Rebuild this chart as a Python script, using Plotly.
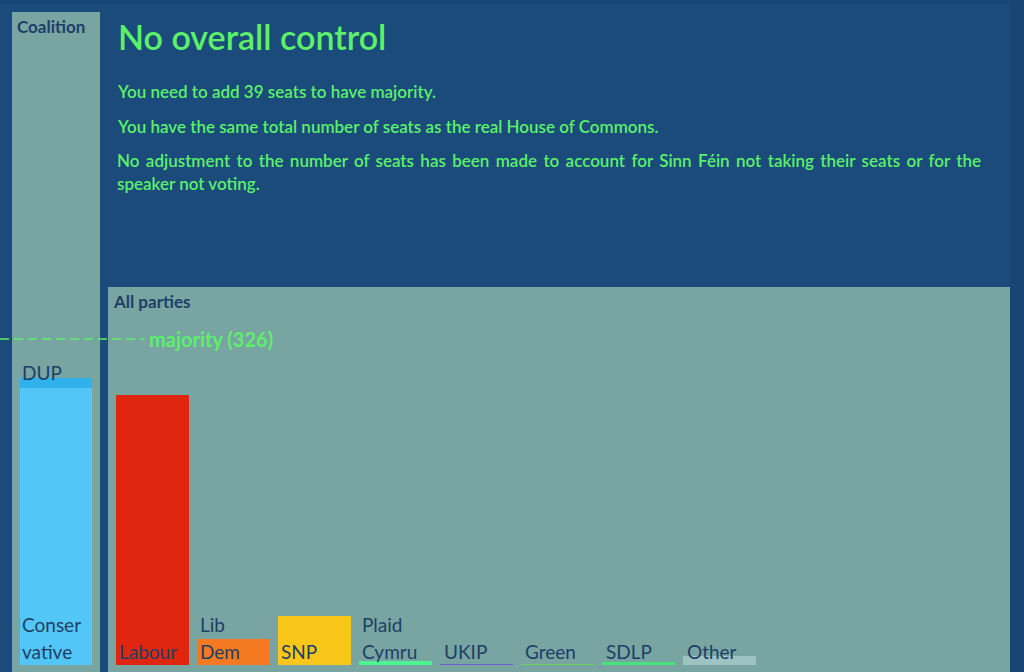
import plotly.graph_objects as go

# ---- data ----
coalition_parties = ["Conservative", "DUP"]
coalition_seats = [277, 10]
coalition_colors = ["#52c7f7", "#2fb1ec"]

parties = ["Labour", "Lib Dem", "SNP", "Plaid Cymru", "UKIP", "Green", "SDLP", "Other"]
party_seats = [270, 26, 49, 4, 1, 1, 3, 9]
party_colors = ["#e0260e", "#f47920", "#f9c61a", "#4cf58f", "#6e5ccc", "#69d35c", "#45e37a", "#9ec3c3"]
party_label_lines = [["Labour"], ["Lib", "Dem"], ["SNP"], ["Plaid", "Cymru"],
                     ["UKIP"], ["Green"], ["SDLP"], ["Other"]]

majority = 326
total_seats = 650
seats_needed = majority - sum(coalition_seats)

BG = "#1b4b7a"
PANEL = "#78a4a2"
GREEN = "#5cf06b"
NAVY = "#1d3f66"
FONT = "Lato"
TS = "\u2009"  # thin space to widen the justified line

W, H = 1024, 672

fig = go.Figure()

fig.add_trace(go.Bar(x=["Coalition"], y=[coalition_seats[0]], marker_color=coalition_colors[0],
                     marker_line_width=0, xaxis="x", yaxis="y", name=coalition_parties[0],
                     hoverinfo="skip"))
fig.add_trace(go.Bar(x=["Coalition"], y=[coalition_seats[1]], marker_color=coalition_colors[1],
                     marker_line_width=0, xaxis="x", yaxis="y", name=coalition_parties[1],
                     hoverinfo="skip"))
fig.add_trace(go.Bar(x=parties, y=party_seats, marker_color=party_colors, marker_line_width=0,
                     xaxis="x2", yaxis="y", name="All parties", hoverinfo="skip"))

shapes = [
    dict(type="rect", xref="paper", yref="paper", x0=1010 / W, x1=1, y0=0, y1=1,
         fillcolor="#184574", line_width=0, layer="below"),
    dict(type="rect", xref="paper", yref="paper", x0=0, x1=1, y0=1 - 4 / H, y1=1,
         fillcolor="#184574", line_width=0, layer="below"),
    dict(type="rect", xref="paper", yref="paper", x0=12 / W, x1=100 / W, y0=0, y1=1 - 12 / H,
         fillcolor=PANEL, line_width=0, layer="below"),
    dict(type="rect", xref="paper", yref="paper", x0=108 / W, x1=1010 / W, y0=0, y1=1 - 287 / H,
         fillcolor=PANEL, line_width=0, layer="below"),
    dict(type="line", xref="paper", yref="y", x0=0, x1=145 / W, y0=majority, y1=majority,
         line=dict(color=GREEN, width=1.5, dash="9px,5px"), layer="above"),
]

annotations = []
def txt(text, x, y, size, color, weight="normal", xref="paper", yref="paper",
        xanchor="left", yanchor="middle", **kw):
    annotations.append(dict(text=text, x=x, y=y, xref=xref, yref=yref, xanchor=xanchor,
                            yanchor=yanchor, showarrow=False,
                            font=dict(family=FONT, size=size, color=color, weight=weight), **kw))

line3 = "No adjustment to the number of seats has been made to account for Sinn Féin not taking their seats or for the"
line3 = (" " + TS).join(line3.split(" "))

txt("No overall control", 116 / W, 1 - 36 / H, 34, GREEN, weight=600)
txt(f"You need to add {seats_needed} seats to have majority.", 115 / W, 1 - 92 / H, 17, GREEN, weight=600)
txt("You have the same total number of seats as the real House of Commons.", 115 / W, 1 - 126 / H, 17, GREEN, weight=600)
txt(line3, 115 / W, 1 - 160 / H, 17, GREEN, weight=600)
txt("speaker not voting.", 115 / W, 1 - 183 / H, 17, GREEN, weight=600)

txt("Coalition", 15 / W, 1 - 27 / H, 17, NAVY, weight="bold")
txt("All parties", 111 / W, 1 - 301 / H, 17, NAVY, weight="bold")
txt(f"majority ({majority})", 147 / W, majority, 20, GREEN, weight="bold", yref="y")

txt("DUP", "Coalition", sum(coalition_seats), 19, NAVY, xref="x", yref="y", xshift=-36, yshift=6)
txt("Conser", "Coalition", 0, 19, NAVY, xref="x", yref="y", xshift=-36, yshift=41)
txt("vative", "Coalition", 0, 19, NAVY, xref="x", yref="y", xshift=-36, yshift=14)

for name, lines in zip(parties, party_label_lines):
    for i, line in enumerate(reversed(lines)):
        txt(line, name, 0, 19, NAVY, xref="x2", yref="y", xshift=-35, yshift=14 + 27 * i)

fig.update_layout(
    width=W, height=H,
    margin=dict(l=0, r=0, t=0, b=0),
    paper_bgcolor=BG, plot_bgcolor="rgba(0,0,0,0)",
    barmode="stack", bargap=0.1, showlegend=False,
    xaxis=dict(domain=[12 / W, 100 / W], type="category", range=[-0.543, 0.543],
               visible=False, fixedrange=True, anchor="y"),
    xaxis2=dict(domain=[108 / W, 1010 / W], type="category", range=[-0.549, 10.586],
                visible=False, fixedrange=True, anchor="y", categoryorder="array",
                categoryarray=parties),
    yaxis=dict(domain=[0, 1], range=[-7, 665], visible=False, fixedrange=True),
    shapes=shapes, annotations=annotations,
    font=dict(family=FONT),
)

fig.write_html("out.html", config={"displayModeBar": False},
               post_script="document.body.style.margin='0';document.body.style.overflow='hidden';")
